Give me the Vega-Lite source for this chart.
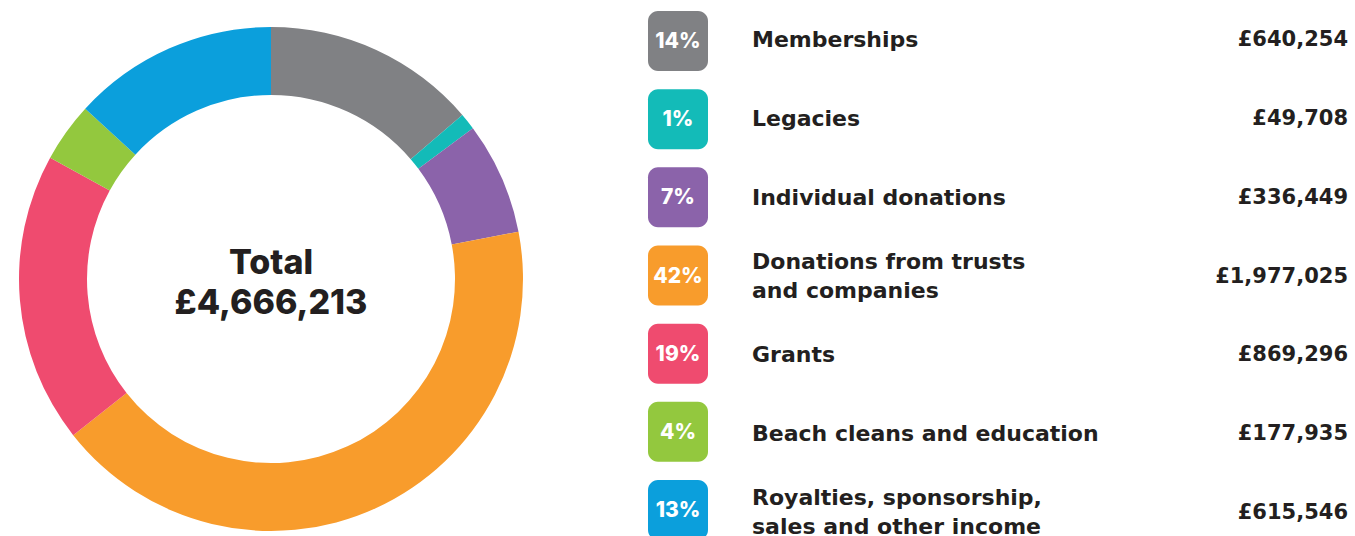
{
  "$schema": "https://vega.github.io/schema/vega-lite/v6.json",
  "padding": 0,
  "background": "white",
  "spacing": 106,
  "config": {"view": {"stroke": null}, "font": "Inter"},
  "datasets": {
    "income": [
      {"order": 1, "category": "Memberships", "label": "Memberships", "pct": "14%", "value": 640254, "amount": "£640,254"},
      {"order": 2, "category": "Legacies", "label": "Legacies", "pct": "1%", "value": 49708, "amount": "£49,708"},
      {"order": 3, "category": "Individual donations", "label": "Individual donations", "pct": "7%", "value": 336449, "amount": "£336,449"},
      {"order": 4, "category": "Donations from trusts and companies", "label": "Donations from trusts\nand companies", "pct": "42%", "value": 1977025, "amount": "£1,977,025"},
      {"order": 5, "category": "Grants", "label": "Grants", "pct": "19%", "value": 869296, "amount": "£869,296"},
      {"order": 6, "category": "Beach cleans and education", "label": "Beach cleans and education", "pct": "4%", "value": 177935, "amount": "£177,935"},
      {"order": 7, "category": "Royalties, sponsorship, sales and other income", "label": "Royalties, sponsorship,\nsales and other income", "pct": "13%", "value": 615546, "amount": "£615,546"}
    ]
  },
  "hconcat": [
    {
      "width": 542,
      "height": 558,
      "layer": [
        {
          "data": {"name": "income"},
          "mark": {"type": "arc", "innerRadius": 184, "outerRadius": 252},
          "encoding": {
            "theta": {"field": "value", "type": "quantitative", "stack": true},
            "order": {"field": "order", "type": "quantitative"},
            "color": {
              "field": "category", "type": "nominal", "legend": null,
              "scale": {
                "domain": ["Memberships", "Legacies", "Individual donations", "Donations from trusts and companies", "Grants", "Beach cleans and education", "Royalties, sponsorship, sales and other income"],
                "range": ["#808184", "#13BBB8", "#8B63AA", "#F89C2C", "#EF4B6F", "#93C83E", "#0B9FDC"]
              }
            }
          }
        },
        {
          "data": {"values": [{"caption": "Total\n£4,666,213"}]},
          "mark": {"type": "text", "lineBreak": "\n", "fontSize": 34, "fontWeight": 800, "lineHeight": 40, "baseline": "middle", "align": "center", "dy": -15, "color": "#231F20"},
          "encoding": {"text": {"field": "caption"}}
        }
      ]
    },
    {
      "spacing": 44,
      "hconcat": [
        {
          "width": 60,
          "height": 551,
          "data": {"name": "income"},
          "layer": [
            {
              "mark": {"type": "rect", "cornerRadius": 10},
              "encoding": {
                "y": {"field": "category", "type": "nominal", "axis": null, "sort": {"field": "order"}, "scale": {"paddingInner": 0.2325, "paddingOuter": 0.1408}},
                "color": {
                  "field": "category", "type": "nominal", "legend": null,
                  "scale": {
                    "domain": ["Memberships", "Legacies", "Individual donations", "Donations from trusts and companies", "Grants", "Beach cleans and education", "Royalties, sponsorship, sales and other income"],
                    "range": ["#808184", "#13BBB8", "#8B63AA", "#F89C2C", "#EF4B6F", "#93C83E", "#0B9FDC"]
                  }
                }
              }
            },
            {
              "mark": {"type": "text", "color": "white", "fontWeight": 800, "fontSize": 21, "baseline": "middle", "align": "center", "dy": 1},
              "encoding": {
                "y": {"field": "category", "type": "nominal", "axis": null, "sort": {"field": "order"}},
                "text": {"field": "pct"}
              }
            }
          ]
        },
        {
          "width": 400,
          "height": 551,
          "data": {"name": "income"},
          "layer": [
            {
              "transform": [{"filter": "indexof(datum.label, '\\n') < 0"}],
              "mark": {"type": "text", "font": "DejaVu Sans", "align": "left", "baseline": "middle", "fontSize": 22, "fontWeight": "bold", "dy": 1, "color": "#231F20"},
              "encoding": {
                "y": {"field": "category", "type": "nominal", "axis": null, "sort": {"field": "order"}},
                "x": {"value": 0},
                "text": {"field": "label"}
              }
            },
            {
              "transform": [{"filter": "indexof(datum.label, '\\n') >= 0"}],
              "mark": {"type": "text", "font": "DejaVu Sans", "align": "left", "baseline": "middle", "fontSize": 22, "fontWeight": "bold", "lineBreak": "\n", "lineHeight": 29, "dy": -13.5, "color": "#231F20"},
              "encoding": {
                "y": {"field": "category", "type": "nominal", "axis": null, "sort": {"field": "order"}},
                "x": {"value": 0},
                "text": {"field": "label"}
              }
            }
          ],
          "resolve": {"scale": {"y": "shared"}},
          "encoding": {}
        },
        {
          "width": 152,
          "height": 551,
          "data": {"name": "income"},
          "mark": {"type": "text", "font": "DejaVu Sans", "align": "right", "baseline": "middle", "fontSize": 21, "fontWeight": "bold", "dy": 1, "color": "#231F20"},
          "encoding": {
            "y": {"field": "category", "type": "nominal", "axis": null, "sort": {"field": "order"}, "scale": {"paddingInner": 0.2325, "paddingOuter": 0.1408}},
            "x": {"value": "width"},
            "text": {"field": "amount"}
          }
        }
      ]
    }
  ]
}
